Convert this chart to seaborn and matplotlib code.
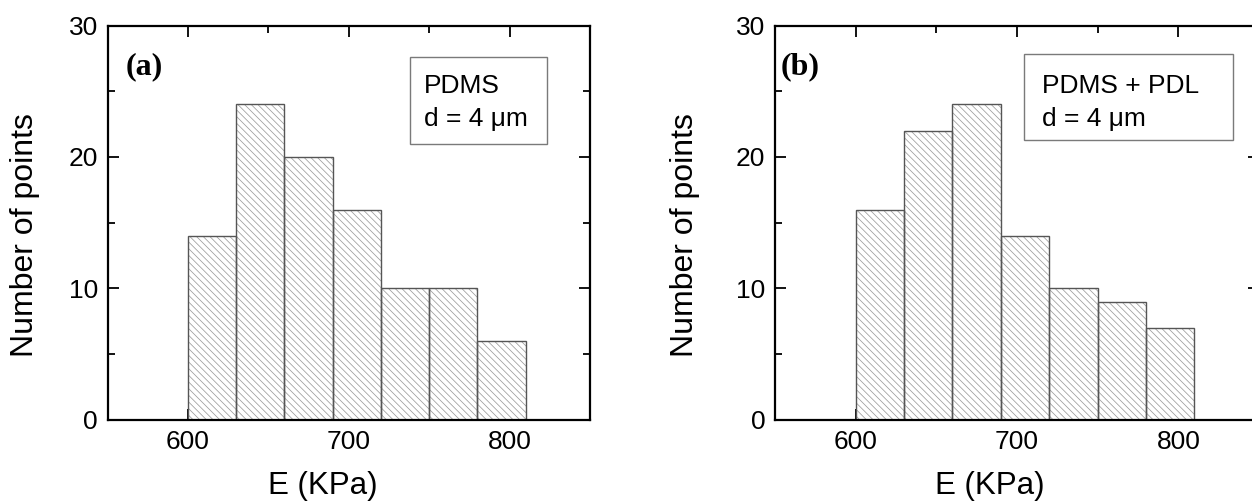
import matplotlib
matplotlib.use("Agg")
import matplotlib.pyplot as plt
import seaborn as sns
from matplotlib.patches import Rectangle
from matplotlib.ticker import MultipleLocator

# histogram data
bin_edges = [600, 630, 660, 690, 720, 750, 780, 810]
counts_a = [14, 24, 20, 16, 10, 10, 6]
counts_b = [16, 22, 24, 14, 10, 9, 7]
panel_tags = ["(a)", "(b)"]
box_titles = ["PDMS", "PDMS + PDL"]
box_note = "d = 4 μm"
x_label = "E (KPa)"
y_label = "Number of points"

sns.set_theme(style="ticks")
plt.rcParams['font.family'] = ['Liberation Sans', 'DejaVu Sans']
plt.rcParams['hatch.linewidth'] = 0.55
for key in ['text.color', 'axes.labelcolor', 'xtick.color', 'ytick.color']:
    plt.rcParams[key] = 'black'


def draw_panel(ax, counts, tag, title, box, text_x, ylab_x, xlab_x):
    centers = [(lo + hi) / 2 for lo, hi in zip(bin_edges[:-1], bin_edges[1:])]
    # hatched fill (hatch takes the edge colour, so keep it light and hide the outline)
    sns.histplot(x=centers, weights=counts, bins=bin_edges, ax=ax,
                 color="white", edgecolor="#9c9c9c", linewidth=0, alpha=1)
    for p in ax.patches:
        p.set_hatch("\\\\\\\\\\")
    # darker outlines on top
    sns.histplot(x=centers, weights=counts, bins=bin_edges, ax=ax, fill=False,
                 color="#555555", linewidth=1.0)

    ax.set_xlim(550, 850)
    ax.set_ylim(0, 30)
    ax.xaxis.set_major_locator(MultipleLocator(100))
    ax.xaxis.set_minor_locator(MultipleLocator(50))
    ax.yaxis.set_major_locator(MultipleLocator(10))
    ax.yaxis.set_minor_locator(MultipleLocator(5))
    ax.tick_params(which="both", direction="in", top=True, right=True,
                   width=1.3, color="black", labelsize=19, pad=7)
    ax.tick_params(which="major", length=8)
    ax.tick_params(which="minor", length=5)
    for s in ax.spines.values():
        s.set_linewidth(1.6)
        s.set_color("black")
        s.set_visible(True)

    ax.set_xlabel(x_label, fontsize=22.5)
    ax.set_ylabel(y_label, fontsize=23)
    ax.xaxis.set_label_coords(xlab_x, -0.13)
    ax.yaxis.set_label_coords(ylab_x, 0.468)

    ax.text(tag[1], 0.895, tag[0], transform=ax.transAxes, fontsize=23,
            fontweight="bold", family=["Liberation Serif"], va="center", ha="left")

    ax.add_patch(Rectangle((box[0], box[1]), box[2], box[3], transform=ax.transAxes,
                           facecolor="white", edgecolor="#7a7a7a", linewidth=1.0, zorder=3))
    ax.text(text_x, 0.830, title, transform=ax.transAxes, fontsize=19,
            va="baseline", ha="left", zorder=4)
    ax.text(text_x, 0.745, box_note, transform=ax.transAxes, fontsize=19,
            va="baseline", ha="left", zorder=4)


fig = plt.figure(figsize=(12.52, 5.04), dpi=100)
ax1 = fig.add_axes([0.0859, 0.1667, 0.3854, 0.7827])
ax2 = fig.add_axes([0.619, 0.1667, 0.3866, 0.7827])

draw_panel(ax1, counts_a, (panel_tags[0], 0.038), box_titles[0],
           (0.626, 0.700, 0.284, 0.2205), 0.655, -0.140, 0.447)
draw_panel(ax2, counts_b, (panel_tags[1], 0.012), box_titles[1],
           (0.514, 0.710, 0.432, 0.2180), 0.552, -0.155, 0.444)

fig.savefig("out.png", dpi=100)
